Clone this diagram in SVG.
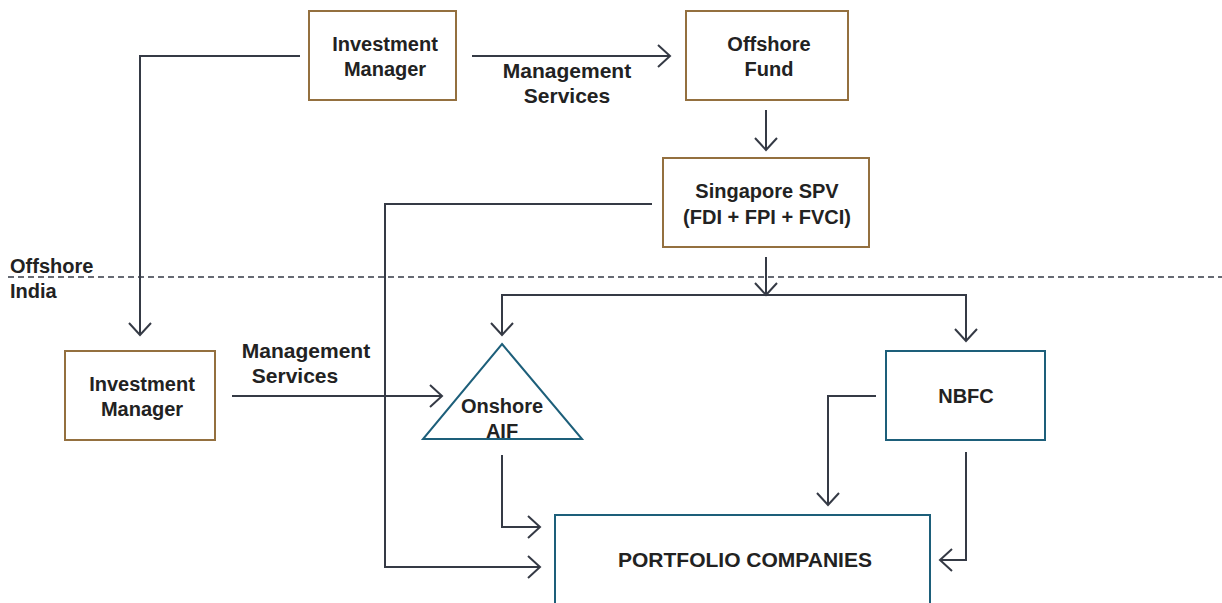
<svg xmlns="http://www.w3.org/2000/svg" width="1222" height="603" viewBox="0 0 1222 603">
<style>
.bx{fill:#fff;stroke:#94703f;stroke-width:2}
.bl{fill:#fff;stroke:#1d5f7a;stroke-width:2}
.t{font-family:"Liberation Sans",Arial,sans-serif;font-weight:bold;font-size:20px;fill:#222;text-anchor:middle}
.l{font-size:21px}
.c{fill:none;stroke:#353a45;stroke-width:2}
</style>
<defs>
<marker id="a" markerWidth="24" markerHeight="24" refX="20" refY="12" orient="auto" markerUnits="userSpaceOnUse">
<path d="M8,1 L20,12 L8,23" fill="none" stroke="#353a45" stroke-width="2"/>
</marker>
</defs>
<rect width="1222" height="603" fill="#fff"/>
<line x1="8" y1="277" x2="1222" y2="277" stroke="#353a45" stroke-width="1.5" stroke-dasharray="6,4"/>
<text class="t" x="10" y="273" style="text-anchor:start">Offshore</text>
<text class="t" x="10" y="298" style="text-anchor:start">India</text>
<g id="connectors">
<path class="c" d="M300,56 H140 V335" marker-end="url(#a)"/>
<path class="c" d="M472,56 H670" marker-end="url(#a)"/>
<path class="c" d="M766,110 V150" marker-end="url(#a)"/>
<path class="c" d="M652,204 H385 V567 H540" marker-end="url(#a)"/>
<path class="c" d="M766,257 V295" marker-end="url(#a)"/>
<path class="c" d="M766,295 H502 V335" marker-end="url(#a)"/>
<path class="c" d="M766,295 H966 V341" marker-end="url(#a)"/>
<path class="c" d="M232,396 H442" marker-end="url(#a)"/>
<path class="c" d="M502,455 V527 H540" marker-end="url(#a)"/>
<path class="c" d="M876,396 H828 V505" marker-end="url(#a)"/>
<path class="c" d="M966,452 V560 H940" marker-end="url(#a)"/>
<text class="t l" x="567" y="78">Management</text>
<text class="t l" x="567" y="103">Services</text>
<text class="t l" x="306" y="358">Management</text>
<text class="t l" x="295" y="383">Services</text>
</g>
<g id="im-top"><rect class="bx" x="309" y="11" width="147" height="89"/><text class="t" x="385" y="51">Investment</text><text class="t" x="385" y="76">Manager</text></g>
<g id="offshore-fund"><rect class="bx" x="686" y="11" width="162" height="89"/><text class="t" x="769" y="51">Offshore</text><text class="t" x="769" y="76">Fund</text></g>
<g id="spv"><rect class="bx" x="663" y="158" width="206" height="89"/><text class="t" x="767" y="198">Singapore SPV</text><text class="t" x="767" y="224">(FDI + FPI + FVCI)</text></g>
<g id="im-india"><rect class="bx" x="65" y="351" width="150" height="89"/><text class="t" x="142" y="391">Investment</text><text class="t" x="142" y="416">Manager</text></g>
<g id="aif"><polygon class="bl" points="502,344 582,439 423,439"/><text class="t" x="502" y="413">Onshore</text><text class="t" x="502" y="438">AIF</text></g>
<g id="nbfc"><rect class="bl" x="886" y="351" width="159" height="89"/><text class="t" x="966" y="403">NBFC</text></g>
<g id="portfolio"><rect class="bl" x="555" y="515" width="375" height="100"/><text class="t l" x="745" y="567">PORTFOLIO COMPANIES</text></g>
</svg>
